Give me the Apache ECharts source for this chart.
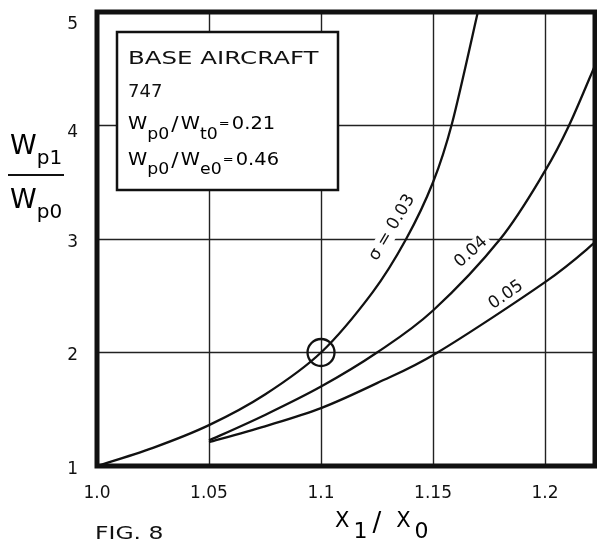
<!DOCTYPE html>
<html><head><meta charset="utf-8">
<script src="https://cdn.jsdelivr.net/npm/echarts@6/dist/echarts.min.js"></script>
<style>html,body{margin:0;padding:0;background:#fff}#c{width:597px;height:544px}</style>
</head><body><div id="c"></div>
<script>
// ---- data ----
const xTickValues = [1.0, 1.05, 1.1, 1.15, 1.2];
const xTickLabels = ['1.0', '1.05', '1.1', '1.15', '1.2'];
const yTickLabels = ['1', '2', '3', '4', '5'];
const curveNames = ['σ = 0.03', '0.04', '0.05'];

const sigma003X = [1.0, 1.025, 1.05, 1.075, 1.1, 1.123, 1.138, 1.15, 1.1585, 1.170];
const sigma003Y = [1.0, 1.16, 1.36, 1.63, 2.0, 2.53, 3.0, 3.50, 4.02, 5.0];

const sigma004X = [1.05, 1.075, 1.1, 1.125, 1.15, 1.18, 1.2, 1.2107, 1.2223];
const sigma004Y = [1.225, 1.45, 1.70, 2.0, 2.37, 3.0, 3.6, 4.0, 4.53];

const sigma005X = [1.05, 1.075, 1.1, 1.125, 1.152, 1.2, 1.2223];
const sigma005Y = [1.21, 1.35, 1.51, 1.73, 2.0, 2.62, 2.97];

const designPoint = [1.1, 2.0];

// ---- chart ----
const FONT = '"DejaVu Sans", sans-serif';
const INK = '#111';
const pairs = (xs, ys) => xs.map((x, i) => [x, ys[i]]);
const curves = [pairs(sigma003X, sigma003Y), pairs(sigma004X, sigma004Y), pairs(sigma005X, sigma005Y)];

const chart = echarts.init(document.getElementById('c'), null, {renderer: 'canvas'});

// Catmull-Rom spline through the pixel positions the axes give for each read point
function splinePath(pts) {
  let d = 'M' + pts[0][0] + ' ' + pts[0][1];
  for (let i = 0; i < pts.length - 1; i++) {
    const p0 = pts[Math.max(0, i - 1)], p1 = pts[i], p2 = pts[i + 1], p3 = pts[Math.min(pts.length - 1, i + 2)];
    const c1x = p1[0] + (p2[0] - p0[0]) / 6, c1y = p1[1] + (p2[1] - p0[1]) / 6;
    const c2x = p2[0] - (p3[0] - p1[0]) / 6, c2y = p2[1] - (p3[1] - p1[1]) / 6;
    d += ' C' + c1x + ' ' + c1y + ' ' + c2x + ' ' + c2y + ' ' + p2[0] + ' ' + p2[1];
  }
  return d;
}

const curveLabelAnchors = [
  {coord: [1.1317, 3.10], rotate: 59},
  {coord: [1.167, 2.885], rotate: 42},
  {coord: [1.1826, 2.507], rotate: 35}
];

const sub = (pad, size) => ({fontFamily: FONT, fontSize: size, lineHeight: size, color: INK,
  verticalAlign: 'top', padding: [pad, 0, 0, 0]});
const legendRich = (pad) => ({
  m: {fontFamily: FONT, fontSize: 18, lineHeight: 18, color: INK, verticalAlign: 'top'},
  s: sub(pad, 16),
  sl: {fontFamily: FONT, fontSize: 20, lineHeight: 20, color: INK, verticalAlign: 'top', padding: [0, 2, 0, 2]},
  eq: {fontFamily: FONT, fontSize: 12, lineHeight: 12, color: INK, verticalAlign: 'top', padding: [3, 2, 0, 1]}
});

const option = {
  animation: false,
  backgroundColor: '#fff',
  grid: {left: 97, top: 12, right: 2, bottom: 78, show: true, borderColor: INK, borderWidth: 5,
         backgroundColor: 'transparent', z: 4},
  xAxis: {
    type: 'value', min: 1.0, max: 1.2223, interval: 0.05,
    axisLine: {show: false}, axisTick: {show: false},
    splitLine: {show: true, lineStyle: {color: '#222', width: 1.4}},
    axisLabel: {
      showMaxLabel: false, margin: 19, color: INK, fontFamily: FONT, fontSize: 17,
      formatter: v => {
        const i = xTickValues.findIndex(t => Math.abs(t - v) < 1e-6);
        return i >= 0 ? xTickLabels[i] : '';
      }
    }
  },
  yAxis: {
    type: 'value', min: 1, max: 5, interval: 1,
    axisLine: {show: false}, axisTick: {show: false},
    splitLine: {show: true, lineStyle: {color: '#222', width: 1.4}},
    axisLabel: {
      margin: 19, color: INK, fontFamily: FONT, fontSize: 17,
      formatter: v => {
        const lbl = yTickLabels[Math.round(v) - 1];
        if (lbl === undefined) return '';
        const st = v === 5 ? 't5' : (v === 4 ? 't4' : 'tn');
        return '{' + st + '|' + lbl + '}';
      },
      rich: {
        t5: {fontFamily: FONT, fontSize: 17, color: INK, padding: [26, 0, 0, 0]},
        t4: {fontFamily: FONT, fontSize: 17, color: INK, padding: [14, 0, 0, 0]},
        tn: {fontFamily: FONT, fontSize: 17, color: INK, padding: [7, 0, 0, 0]}
      }
    }
  },
  series: [
    {
      type: 'custom', coordinateSystem: 'cartesian2d', silent: true, z: 3,
      data: curves.map((c, i) => [c[0][0], c[0][1], i]),
      encode: {x: 0, y: 1},
      renderItem: (params, api) => {
        const pts = curves[api.value(2)].map(p => api.coord(p));
        return {type: 'path', shape: {pathData: splinePath(pts)},
                style: {fill: 'none', stroke: INK, lineWidth: 2.3}};
      }
    },
    {
      type: 'scatter', data: [designPoint], symbol: 'circle', symbolSize: 27, silent: true, z: 5,
      itemStyle: {color: 'rgba(0,0,0,0)', borderColor: INK, borderWidth: 2.3, opacity: 1}
    },
    {
      type: 'scatter', symbolSize: 0, silent: true, z: 6, itemStyle: {opacity: 1},
      data: curveLabelAnchors.map((a, i) => ({
        value: a.coord,
        label: {show: true, position: 'inside', rotate: a.rotate, formatter: curveNames[i],
                color: INK, fontFamily: FONT, fontSize: 17, backgroundColor: '#fff', padding: [0, 3]}
      }))
    }
  ],
  graphic: [
    // legend box
    {type: 'rect', z: 10, shape: {x: 117, y: 32, width: 221, height: 158},
     style: {fill: '#fff', stroke: INK, lineWidth: 2.5}},
    {type: 'text', z: 11, x: 128, y: 59, scaleX: 1.36, style: {text: 'BASE AIRCRAFT', x: 0, y: 0, fill: INK,
      font: '18px ' + FONT, textVerticalAlign: 'middle'}},
    {type: 'text', z: 11, x: 128, y: 92, style: {text: '747', x: 0, y: 0, fill: INK,
      font: '18px ' + FONT, textVerticalAlign: 'middle'}},
    {type: 'text', z: 11, x: 128, y: 115, scaleX: 1.08, style: {
      text: '{m|W}{s|p0}{sl|/}{m|W}{s|t0}{eq|=}{m|0.21}', x: 0, y: 0, textVerticalAlign: 'top',
      rich: legendRich(12)}},
    {type: 'text', z: 11, x: 128, y: 151, scaleX: 1.08, style: {
      text: '{m|W}{s|p0}{sl|/}{m|W}{s|e0}{eq|=}{m|0.46}', x: 0, y: 0, textVerticalAlign: 'top',
      rich: legendRich(11)}},
    // y-axis title as a fraction
    {type: 'text', style: {
      text: '{w|W}{s|p1}', x: 10, y: 133, textVerticalAlign: 'top',
      rich: {w: {fontFamily: FONT, fontSize: 27, lineHeight: 27, color: INK, verticalAlign: 'top'},
             s: sub(16, 20)}}},
    {type: 'line', shape: {x1: 8, y1: 175, x2: 64, y2: 175}, style: {stroke: INK, lineWidth: 2}},
    {type: 'text', style: {
      text: '{w|W}{s|p0}', x: 10, y: 187, textVerticalAlign: 'top',
      rich: {w: {fontFamily: FONT, fontSize: 27, lineHeight: 27, color: INK, verticalAlign: 'top'},
             s: sub(16, 20)}}},
    // x-axis title
    {type: 'text', style: {
      text: '{x|X}{s|1}{sl|/}{x|X}{s0|0}', x: 335, y: 511, textVerticalAlign: 'top',
      rich: {
        x: {fontFamily: FONT, fontSize: 21, lineHeight: 21, color: INK, verticalAlign: 'top', padding: [0, 4, 0, 0]},
        s: {fontFamily: FONT, fontSize: 22, lineHeight: 22, color: INK, verticalAlign: 'top', padding: [10, 3, 0, 0]},
        s0: {fontFamily: FONT, fontSize: 22, lineHeight: 22, color: INK, verticalAlign: 'top', padding: [10, 0, 0, 0]},
        sl: {fontFamily: FONT, fontSize: 26, lineHeight: 26, color: INK, verticalAlign: 'top', padding: [0, 15, 0, 2]}
      }}},
    {type: 'text', x: 95, y: 535, scaleX: 1.38, style: {text: 'FIG. 8', x: 0, y: 0, fill: INK, font: '17px ' + FONT,
      textVerticalAlign: 'middle'}}
  ]
};
chart.setOption(option);
</script></body></html>
